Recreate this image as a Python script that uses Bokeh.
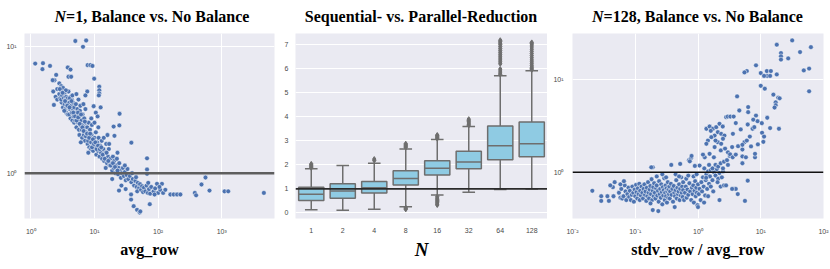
from bokeh.plotting import figure
from bokeh.layouts import row, column
from bokeh.models import Range1d, FixedTicker, CustomJSTickFormatter, Span, Div, ColumnDataSource
from bokeh.transform import dodge
from bokeh.embed import file_html
from bokeh.resources import INLINE

# ---------------- Panel 1: N=1, Balance vs. No Balance (avg_row) ----------------
p1_x = (
    [5.0, 7.4, 6.6, 1.17, 1.55, 1.52, 2.0, 7.8, 8.6, 9.3, 3.8, 4.2, 2.5, 3.9, 4.3, 9.9, 2.35, 11.9, 11.9, 11.9, 2.8, 3.0, 2.9, 2.25, 7.7, 7.2]
    + [2.2, 2.3, 2.45, 2.6, 2.6, 2.8, 2.9, 3.0, 3.05, 3.1, 3.2, 3.2, 3.0, 2.85]
    + [3.3, 3.4, 3.4, 3.5, 3.5, 3.6, 3.6, 3.7, 3.8, 3.8, 3.9, 3.9, 3.35, 3.55]
    + [4.0, 4.0, 4.1, 4.2, 4.2, 4.3, 4.4, 4.4, 4.5, 4.6, 4.6, 4.7, 4.8, 4.8, 4.1, 4.5]
    + [5.0, 5.0, 5.1, 5.2, 5.3, 5.4, 5.5, 5.6, 5.7, 5.8, 5.9, 6.0, 5.2, 5.5, 5.8, 6.0]
    + [6.2, 6.3, 6.4, 6.5, 6.6, 6.8, 6.9, 7.0, 7.1, 7.2, 7.3, 7.4, 6.7, 7.5, 6.1]
    + [7.7, 7.8, 8.0, 8.1, 8.3, 8.5, 8.6, 8.8, 9.0, 9.1, 9.3, 9.5, 8.0, 8.9, 9.7]
    + [10.0, 10.2, 10.5, 10.7, 11.0, 11.3, 11.6, 12.0, 12.3, 12.7, 13.0, 13.2, 10.0, 11.5, 10.5, 12.5, 11.2, 11.7]
    + [13.8, 14.2, 14.8, 15.3, 15.8, 16.3, 16.8, 17.3, 17.8, 14.0, 15.0, 16.0, 17.0]
    + [18.5, 19.0, 19.5, 20.0, 20.5, 21.5, 22.0, 22.5, 23.5, 24.0, 24.5, 20.0, 20.6, 24.8, 24.6, 19.0, 23.0]
    + [25.5, 26.0, 27.0, 28.0, 29.0, 30.0, 31.0, 32.0, 33.0, 34.0, 26.5, 38.0, 30.0]
    + [24.3, 30.9, 37.6, 37.6, 41.3, 46.7, 51.3]
    + [36, 38, 40, 42, 44, 46, 48, 50, 39, 45, 47]
    + [52, 54, 56, 58, 60, 63, 66, 69, 72, 75, 78, 67, 67, 67, 74, 52.5, 70]
    + [85, 90, 96, 100, 108, 115, 120, 130, 88, 105]
    + [156, 176, 199, 224, 378, 396, 481, 556, 643, 1107, 1266, 4600]
    + [3.15, 3.45, 3.75, 4.05, 4.35, 4.65, 4.95, 5.25, 5.55, 5.85, 6.15, 6.45, 6.75, 7.05, 7.35, 7.65, 7.95, 8.25,
       8.55, 8.85, 9.15, 9.45, 9.8, 10.3, 10.8, 11.4, 12.1, 12.8, 13.5, 14.5, 15.5, 16.5, 18.0, 19.5, 21.0, 23.0]
)
p1_y = (
    [11.0, 11.1, 9.9, 7.3, 7.35, 6.6, 7.0, 7.1, 7.1, 7.0, 6.8, 6.55, 5.95, 5.75, 5.75, 5.55, 5.4, 4.8, 4.5, 4.25, 5.1, 4.85, 4.65, 4.4, 4.4, 4.1]
    + [5.4, 3.45, 4.0, 4.6, 3.8, 4.2, 3.9, 4.5, 3.6, 4.1, 3.3, 4.7, 3.8, 4.6]
    + [3.9, 3.5, 4.3, 3.2, 3.8, 4.0, 3.0, 3.5, 3.9, 2.9, 3.3, 4.4, 3.1, 4.5]
    + [3.6, 2.9, 3.2, 4.0, 2.7, 3.4, 3.0, 3.8, 2.6, 3.2, 3.6, 2.8, 3.3, 2.5, 3.9, 4.1]
    + [3.0, 2.6, 3.5, 2.3, 2.8, 3.2, 2.5, 3.8, 2.2, 2.7, 3.1, 2.4, 4.2, 3.0, 2.0, 3.4]
    + [2.6, 2.2, 1.9, 2.9, 2.4, 2.0, 2.7, 2.3, 1.8, 3.2, 2.5, 2.1, 3.5, 1.95, 1.75]
    + [2.3, 1.7, 2.0, 2.5, 1.6, 2.2, 1.85, 1.55, 2.0, 2.4, 1.7, 1.5, 1.45, 2.7, 3.37]
    + [1.9, 1.6, 2.1, 1.4, 1.75, 1.5, 1.9, 1.35, 1.65, 1.45, 1.8, 1.3, 2.5, 2.3, 3.0, 3.3, 2.8, 4.1]
    + [1.55, 1.25, 1.45, 1.7, 1.2, 1.35, 1.55, 1.15, 1.3, 1.9, 1.1, 2.0, 1.7]
    + [1.2, 1.05, 1.35, 1.1, 1.25, 1.0, 1.15, 1.3, 0.98, 1.1, 1.2, 2.33, 1.97, 2.94, 2.38, 0.9, 1.45]
    + [1.05, 0.92, 1.0, 1.1, 0.95, 1.02, 0.88, 0.97, 1.08, 0.9, 0.8, 1.74, 1.15]
    + [0.73, 0.75, 0.68, 0.62, 0.55, 0.515, 0.49]
    + [0.95, 0.85, 0.9, 0.8, 0.87, 0.78, 0.84, 0.76, 1.0, 0.93, 0.72]
    + [0.82, 0.74, 0.79, 0.71, 0.77, 0.72, 0.8, 0.7, 0.75, 0.69, 0.78, 1.31, 1.07, 0.99, 0.57, 0.50, 0.84]
    + [0.72, 0.76, 0.825, 0.7, 0.74, 0.825, 0.7, 0.74, 0.68, 0.78]
    + [0.68, 0.68, 0.68, 0.68, 0.7, 0.67, 0.815, 0.925, 0.73, 0.72, 0.72, 0.7]
    + [4.3, 3.7, 3.4, 3.3, 3.7, 3.0, 2.8, 2.6, 2.75, 2.45, 2.9, 2.3, 2.15, 2.55, 1.95, 2.05, 1.8, 1.9,
       2.05, 1.75, 1.6, 1.85, 1.7, 1.75, 1.55, 1.65, 1.55, 1.6, 1.4, 1.3, 1.45, 1.25, 1.15, 1.2, 1.12, 1.05]
)
p1_xticks = [1, 10, 100, 1000]
p1_yticks = [1, 10]

# ---------------- Panel 2: Sequential- vs. Parallel-Reduction ----------------
p2_cats = ["1", "2", "4", "8", "16", "32", "64", "128"]
p2_q1 = [0.52, 0.61, 0.83, 1.16, 1.58, 1.84, 2.21, 2.34]
p2_med = [0.78, 0.91, 1.05, 1.43, 1.86, 2.12, 2.79, 2.88]
p2_q3 = [1.07, 1.21, 1.31, 1.76, 2.17, 2.57, 3.61, 3.78]
p2_lo = [0.135, 0.11, 0.15, 0.26, 0.75, 0.86, 0.98, 1.0]
p2_hi = [1.84, 1.97, 2.07, 2.66, 3.05, 3.59, 5.70, 5.91]
out_1 = [1.88, 1.92, 1.96, 2.0, 2.04]
out_2 = []
out_4 = [2.18, 2.24]
out_8 = [2.72, 2.76, 2.8, 2.84, 2.88, 0.22, 0.18, 0.15]
out_16 = [3.09, 3.13, 3.17, 3.21, 3.24, 0.68, 0.62, 0.57, 0.52, 0.47, 0.42, 0.37, 0.33]
out_32 = [3.64, 3.69, 3.74, 3.79, 3.84, 3.9]
out_64 = [5.76, 5.82, 5.9, 5.98, 6.2, 6.28, 6.36, 6.44, 6.52, 6.6, 6.68, 6.76, 6.84, 6.92, 7.0, 7.06, 7.12, 7.18]
out_128 = [5.95, 6.0, 6.06, 6.12, 6.2, 6.28, 6.36, 6.45, 6.54, 6.63, 6.72, 6.81, 6.9, 6.98, 7.04, 7.09]
p2_yticks = [0, 1, 2, 3, 4, 5, 6, 7]

# ---------------- Panel 3: N=128, Balance vs. No Balance (stdv_row / avg_row) ----------------
p3_x = (
    [0.0207, 0.0287, 0.0287, 0.036, 0.038, 0.045, 0.044, 0.058, 0.065, 0.076, 0.04, 0.047]
    + [0.055, 0.06, 0.062, 0.065, 0.068, 0.07, 0.072, 0.075, 0.078, 0.08, 0.058, 0.066]
    + [0.082, 0.085, 0.088, 0.09, 0.093, 0.095, 0.098, 0.1, 0.103, 0.105, 0.108, 0.11, 0.113, 0.116, 0.118, 0.12]
    + [0.123, 0.126, 0.13, 0.133, 0.136, 0.14, 0.143, 0.146, 0.15, 0.153, 0.156, 0.16, 0.163, 0.166, 0.17, 0.174,
       0.178, 0.182, 0.186, 0.19, 0.194, 0.197, 0.19, 0.19, 0.175, 0.2]
    + [0.205, 0.21, 0.215, 0.22, 0.225, 0.23, 0.233, 0.236, 0.24, 0.245, 0.25, 0.255, 0.26, 0.265, 0.27, 0.275,
       0.28, 0.285, 0.29, 0.295, 0.3, 0.305, 0.31, 0.315, 0.32, 0.325, 0.33, 0.335, 0.34, 0.345, 0.35, 0.22, 0.27, 0.31]
    + [0.355, 0.36, 0.37, 0.375, 0.38, 0.39, 0.4, 0.41, 0.42, 0.425, 0.43, 0.44, 0.45, 0.46, 0.47, 0.48, 0.49,
       0.5, 0.51, 0.52, 0.53, 0.54, 0.55, 0.56, 0.57, 0.58, 0.6, 0.44, 0.5, 0.58]
    + [0.62, 0.64, 0.66, 0.68, 0.7, 0.72, 0.73, 0.75, 0.77, 0.78, 0.8, 0.82, 0.84, 0.86, 0.88, 0.9, 0.92, 0.94,
       0.96, 0.98, 1.0, 0.65, 0.7, 0.85, 0.95, 1.0]
    + [1.03, 1.06, 1.1, 1.13, 1.16, 1.2, 1.23, 1.26, 1.3, 1.33, 1.36, 1.4, 1.45, 1.5, 1.55, 1.6, 1.25, 1.45, 1.6, 1.35]
    + [1.7, 1.8, 1.9, 2.0, 2.1, 2.2, 2.3, 2.4, 2.5, 2.2, 2.6, 2.8, 1.75, 2.05]
    + [3.8, 4.0, 4.3, 5.6, 6.2, 3.5]
    + [1.28, 1.06, 0.89, 0.74, 0.79, 0.52, 0.18, 1.9, 2.1, 2.3, 2.6, 2.9, 3.2, 3.0, 2.5, 1.7, 1.5]
    + [1.36, 1.53, 1.73, 1.95, 2.2, 2.48, 2.81, 2.98, 2.07, 1.84, 2.34, 2.64, 1.63, 1.44, 2.07, 2.34, 1.84, 1.36,
       1.53, 1.79, 2.31, 1.6, 2.5, 1.9, 2.7, 1.2]
    + [3.0, 3.25, 3.57, 3.5, 4.0, 4.35, 5.1, 5.5, 5.1, 5.1, 5.1, 5.8, 8.1, 8.1, 3.28, 3.7, 4.55, 6.3, 6.3, 8.4,
       7.6, 8.9, 10.4, 12.7, 6.2, 7.4, 7.9, 10.5, 11.3, 14.1, 19.5, 6.7, 11.0, 4.2, 4.0, 3.6, 4.8, 6.0, 7.0, 9.0]
    + [31.7, 18, 42.3, 63, 21, 21, 21, 27.4, 8.4, 6.0, 5.5, 12.5, 14.5, 12.7, 14.1, 10, 11.3, 18, 48.5, 59,
       10, 11.6, 59, 15.9, 19, 20, 17.3, 17.3, 16.6]
)
p3_y = (
    [0.63, 0.55, 0.49, 0.55, 0.49, 0.55, 0.69, 0.53, 0.53, 0.53, 0.72, 0.78]
    + [0.6, 0.66, 0.52, 0.55, 0.72, 0.62, 0.5, 0.58, 0.68, 0.54, 0.74, 0.8]
    + [0.63, 0.5, 0.57, 0.7, 0.6, 0.48, 0.65, 0.55, 0.73, 0.61, 0.52, 0.67, 0.58, 0.75, 0.5, 0.63]
    + [0.56, 0.7, 0.6, 0.52, 0.66, 0.74, 0.57, 0.62, 0.49, 0.68, 0.55, 0.78, 0.6, 0.52, 0.65, 0.71,
       0.58, 0.84, 0.5, 0.63, 0.69, 0.55, 1.13, 0.39, 0.46, 0.76]
    + [0.6, 0.52, 0.67, 0.72, 0.56, 0.63, 0.38, 0.48, 0.8, 0.58, 0.66, 0.53, 0.74, 0.61, 0.45, 0.69,
       0.56, 0.64, 0.86, 0.5, 0.6, 0.72, 0.55, 0.67, 0.47, 0.62, 0.78, 0.53, 0.65, 0.58, 0.7, 0.9, 0.95, 0.88]
    + [0.52, 0.62, 0.75, 1.2, 0.57, 0.66, 0.48, 0.71, 0.6, 0.42, 0.55, 0.64, 0.82, 0.52, 0.68, 0.58, 0.62,
       0.74, 0.5, 0.66, 0.56, 0.88, 0.6, 0.7, 0.54, 0.64, 0.5, 0.95, 0.9, 0.78]
    + [0.6, 0.7, 0.53, 0.65, 0.57, 1.35, 0.76, 0.62, 1.42, 0.5, 0.68, 0.58, 0.72, 0.47, 0.63, 0.8, 0.55, 0.68,
       0.6, 0.44, 0.74, 0.85, 0.92, 0.9, 0.95, 0.42]
    + [0.58, 0.66, 0.5, 0.78, 0.62, 0.88, 0.7, 1.1, 0.56, 0.82, 0.95, 0.66, 1.02, 0.75, 0.9, 1.05, 0.47, 0.55, 0.7, 0.87]
    + [0.82, 1.0, 0.92, 1.08, 0.85, 0.98, 0.7, 0.88, 1.02, 0.5, 0.72, 0.72, 0.62, 0.78]
    + [0.66, 0.66, 0.58, 0.49, 0.81, 0.66]
    + [1.45, 1.18, 1.17, 1.31, 1.5, 1.23, 1.13, 1.2, 1.15, 1.25, 1.3, 1.35, 1.5, 1.2, 1.1, 1.1, 1.2]
    + [2.95, 3.12, 2.95, 3.07, 3.34, 3.12, 3.94, 4.0, 2.71, 2.49, 2.6, 2.49, 2.39, 2.2, 2.11, 2.03, 1.87, 2.03,
       1.58, 1.45, 1.72, 2.8, 2.3, 2.2, 1.8, 1.55]
    + [1.64, 1.56, 1.45, 1.87, 1.55, 1.91, 1.76, 2.11, 1.98, 1.48, 1.25, 1.45, 1.45, 1.58, 4.0, 4.0, 4.65, 5.06, 4.46, 4.1,
       3.7, 3.56, 3.39, 3.88, 3.28, 2.95, 3.07, 2.67, 2.43, 3.0, 2.95, 2.43, 2.13, 6.6, 3.4, 2.6, 2.9, 2.2, 1.9, 2.0]
    + [26.6, 23.9, 19.9, 22.5, 19.4, 17.9, 16.5, 17, 14.3, 12.4, 12, 12.4, 12.4, 11.0, 11.0, 11.8, 11.0, 11.4, 12.6, 13.2,
       8.6, 8.0, 7.5, 6.9, 6.4, 6.3, 5.7, 5.3, 5.0]
)
p3_xticks = [0.01, 0.1, 1, 10, 100]
p3_yticks = [1, 10]

assert len(p1_x) == len(p1_y)
assert len(p3_x) == len(p3_y)

# ---------------- styling ----------------
BG = "#eaeaf2"
DOT = "#4c72b0"
BOX = "#8fcbe3"
EDGE = "#6e6e6e"
TICK_FONT = "Liberation Sans"
SERIF = "Liberation Serif"

POW10 = CustomJSTickFormatter(code="""
const e = Math.round(Math.log10(tick));
const m = {"0": "\u2070", "1": "\u00b9", "2": "\u00b2", "3": "\u00b3", "-": "\u207b"};
return "10" + String(e).split("").map(c => m[c]).join("");
""")


def style(p, ylabel_standoff=7):
    p.background_fill_color = BG
    p.border_fill_color = "white"
    p.outline_line_color = None
    for ax in p.axis:
        ax.axis_line_color = None
        ax.major_tick_line_color = None
        ax.minor_tick_line_color = None
        ax.major_tick_out = 0
        ax.major_tick_in = 0
        ax.minor_tick_out = 0
        ax.minor_tick_in = 0
        ax.major_label_text_font = TICK_FONT
        ax.major_label_text_font_size = "7px"
        ax.major_label_text_color = "#4a4a4a"
        ax.axis_label_text_font = SERIF
        ax.axis_label_text_font_style = "bold"
        ax.axis_label_text_font_size = "16px"
        ax.axis_label_text_color = "black"
        ax.axis_label_standoff = 3
    p.xaxis.major_label_standoff = 9
    p.yaxis.major_label_standoff = ylabel_standoff
    p.grid.grid_line_color = "white"
    p.grid.grid_line_width = 1


def title_div(html, fig_w, left, frame_w):
    return Div(
        text=('<div style="font-family:\'Liberation Serif\';font-weight:bold;font-size:16px;'
              'line-height:18px;padding-top:8px;text-align:center;white-space:nowrap;'
              f'width:{frame_w}px;margin-left:{left}px;">{html}</div>'),
        width=fig_w, height=28, margin=(0, 0, 0, 0))


FH = 185
H = 5 + FH + 46

# Panel 1  (page x 0..279, frame 24..274)
p1 = figure(x_axis_type="log", y_axis_type="log",
            x_range=Range1d(0.794, 6760), y_range=Range1d(0.44, 12.6),
            width=279, height=H,
            min_border_left=24, min_border_right=5, min_border_top=5, min_border_bottom=46,
            output_backend="svg", toolbar_location=None)
p1.xaxis.ticker = FixedTicker(ticks=p1_xticks)
p1.yaxis.ticker = FixedTicker(ticks=p1_yticks)
p1.xaxis.formatter = POW10
p1.yaxis.formatter = POW10
style(p1, ylabel_standoff=8)
p1.xaxis.axis_label = "avg_row"
p1.scatter(p1_x, p1_y, size=4.8, fill_color=DOT, line_color="white", line_width=0.5)
p1.add_layout(Span(location=1, dimension="width", line_color="#5e5e5e", line_width=2.5))

# Panel 2  (page x 279..547, frame 295..547)
p2 = figure(x_range=p2_cats, y_range=Range1d(-0.23, 7.46),
            width=268, height=H,
            min_border_left=16, min_border_right=0, min_border_top=5, min_border_bottom=46,
            output_backend="svg", toolbar_location=None)
p2.yaxis.ticker = FixedTicker(ticks=p2_yticks)
style(p2, ylabel_standoff=7)
p2.xgrid.grid_line_color = None
p2.xaxis.axis_label = "N"
p2.xaxis.axis_label_text_font_style = "bold italic"
p2.xaxis.axis_label_text_font_size = "19px"
src = ColumnDataSource(dict(cats=p2_cats, q1=p2_q1, med=p2_med, q3=p2_q3, lo=p2_lo, hi=p2_hi))
p2.segment(x0="cats", x1="cats", y0="q3", y1="hi", source=src, line_color=EDGE, line_width=1.5)
p2.segment(x0="cats", x1="cats", y0="lo", y1="q1", source=src, line_color=EDGE, line_width=1.5)
p2.vbar(x="cats", top="q3", bottom="q1", width=0.8, source=src,
        fill_color=BOX, line_color=EDGE, line_width=1.5)
p2.segment(x0=dodge("cats", -0.4, range=p2.x_range), x1=dodge("cats", 0.4, range=p2.x_range),
           y0="med", y1="med", source=src, line_color=EDGE, line_width=1.5)
for col in ("hi", "lo"):
    p2.segment(x0=dodge("cats", -0.2, range=p2.x_range), x1=dodge("cats", 0.2, range=p2.x_range),
               y0=col, y1=col, source=src, line_color=EDGE, line_width=1.5)
outs = [out_1, out_2, out_4, out_8, out_16, out_32, out_64, out_128]
ox, oy = [], []
for c, vals in zip(p2_cats, outs):
    ox += [c] * len(vals)
    oy += vals
p2.scatter(ox, oy, marker="diamond", size=5, fill_color=EDGE, line_color=EDGE)
p2.add_layout(Span(location=1, dimension="width", line_color="#2b2b2b", line_width=1.6))

# Panel 3  (page x 547..830, frame 572..823)
p3 = figure(x_axis_type="log", y_axis_type="log",
            x_range=Range1d(0.01, 100), y_range=Range1d(0.316, 31.6),
            width=283, height=H,
            min_border_left=25, min_border_right=7, min_border_top=5, min_border_bottom=46,
            output_backend="svg", toolbar_location=None)
p3.xaxis.ticker = FixedTicker(ticks=p3_xticks)
p3.yaxis.ticker = FixedTicker(ticks=p3_yticks)
p3.xaxis.formatter = POW10
p3.yaxis.formatter = POW10
style(p3, ylabel_standoff=9)
p3.xaxis.axis_label = "stdv_row / avg_row"
p3.scatter(p3_x, p3_y, size=4.8, fill_color=DOT, line_color="white", line_width=0.5)
p3.add_layout(Span(location=1, dimension="width", line_color="#111111", line_width=1.6))

t1 = title_div("<i>N</i>=1, Balance vs. No Balance", 279, 27, 250)
t2 = title_div("Sequential- vs. Parallel-Reduction", 268, 16, 252)
t3 = title_div("<i>N</i>=128, Balance vs. No Balance", 283, 25, 251)

layout = row(column(t1, p1), column(t2, p2), column(t3, p3))
open("out.html", "w").write(file_html(layout, INLINE))
